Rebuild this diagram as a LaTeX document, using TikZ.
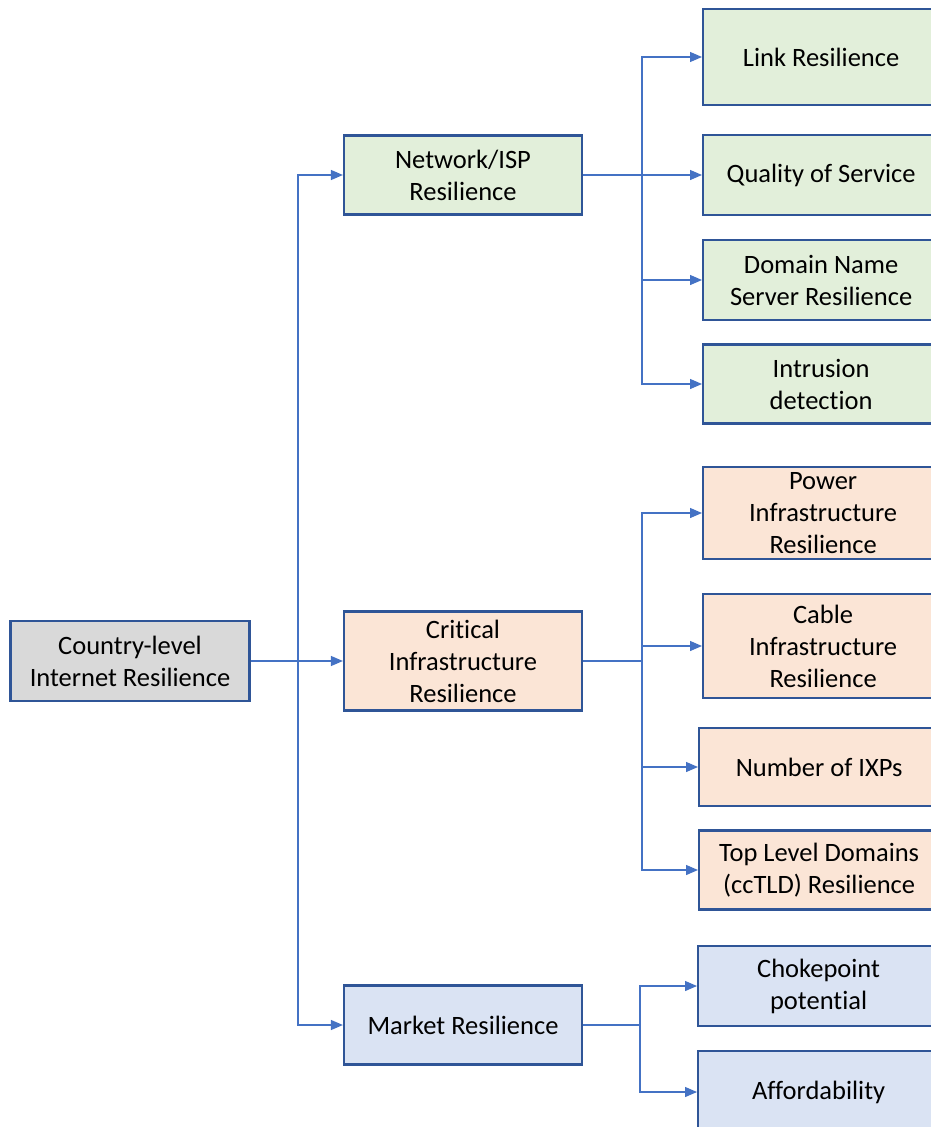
\documentclass[tikz,border=0pt]{standalone}
\usepackage{fontspec}
\setmainfont{Carlito}[Ligatures=NoCommon]
\usetikzlibrary{arrows.meta}
\definecolor{boxline}{RGB}{47,85,151}
\definecolor{linkblue}{RGB}{68,114,196}
\definecolor{netgreen}{RGB}{226,239,218}
\definecolor{critorange}{RGB}{251,229,214}
\definecolor{marketblue}{RGB}{218,227,243}
\definecolor{rootgray}{RGB}{217,217,217}

\begin{document}
\begin{tikzpicture}[x=1pt,y=-1pt,
  box/.style={draw=boxline, line width=2.2pt, align=center, inner sep=0pt,
    font=\fontsize{26.5}{32}\selectfont},
  link/.style={draw=linkblue, line width=1.3pt},
  tolink/.style={link, -{Triangle[length=12pt,width=10pt]}}]
\useasboundingbox (0,0) rectangle (931,1127);

% Root
\node[box, fill=rootgray, minimum width=239pt, minimum height=80pt] (root) at (130,661) {Country-level\\Internet Resilience};

% Middle level
\node[box, fill=netgreen, minimum width=238pt, minimum height=79pt] (net) at (463,175) {Network/ISP\\Resilience};
\node[box, fill=critorange, minimum width=238pt, minimum height=99pt] (crit) at (463,661) {Critical\\Infrastructure\\Resilience};
\node[box, fill=marketblue, minimum width=238pt, minimum height=79pt] (market) at (463,1025) {Market Resilience};

% Leaves
\foreach \name/\x/\y/\h/\txt in {lnk/702/57/96/{Link Resilience}, qos/702/175/80/{Quality of Service}, dns/702/280/80/{Domain Name\\Server Resilience}, ids/702/384/79/{Intrusion\\detection}} {
    \node[box, fill=netgreen, anchor=west, minimum width=236pt, minimum height=\h pt] (\name) at (\x,\y) {\txt};
}
\foreach \name/\x/\y/\h/\txt in {pwr/702/513/92/{Power\\Infrastructure\\Resilience}, cbl/702/646/104/{Cable\\Infrastructure\\Resilience}, ixp/698/767/78/{Number of IXPs}, tld/698/870/79/{Top Level Domains\\(ccTLD) Resilience}} {
    \node[box, fill=critorange, anchor=west, minimum width=240pt, minimum height=\h pt] (\name) at (\x,\y) {\txt};
}
\foreach \name/\x/\y/\h/\txt in {chk/697/986/80/{Chokepoint\\potential}, aff/697/1092/82/{Affordability}} {
    \node[box, fill=marketblue, anchor=west, minimum width=241pt, minimum height=\h pt] (\name) at (\x,\y) {\txt};
}

% Trunks
\coordinate (rtrunk) at (298,661);
\coordinate (ntrunk) at (642,175);
\coordinate (ctrunk) at (642,661);
\coordinate (mtrunk) at (640,1025);

% Connectors
\draw[tolink] (root) -- (crit);
\draw[tolink] (rtrunk) |- (net.west);
\draw[tolink] (rtrunk) |- (market.west);
\draw[link] (net.east) -- (ntrunk);
\foreach \leaf in {lnk, qos, dns, ids}
    \draw[tolink] (ntrunk) |- (\leaf.west);
\draw[link] (crit.east) -- (ctrunk);
\foreach \leaf in {pwr, cbl, ixp, tld}
    \draw[tolink] (ctrunk) |- (\leaf.west);
\draw[link] (market.east) -- (mtrunk);
\foreach \leaf in {chk, aff}
    \draw[tolink] (mtrunk) |- (\leaf.west);
\end{tikzpicture}
\end{document}
